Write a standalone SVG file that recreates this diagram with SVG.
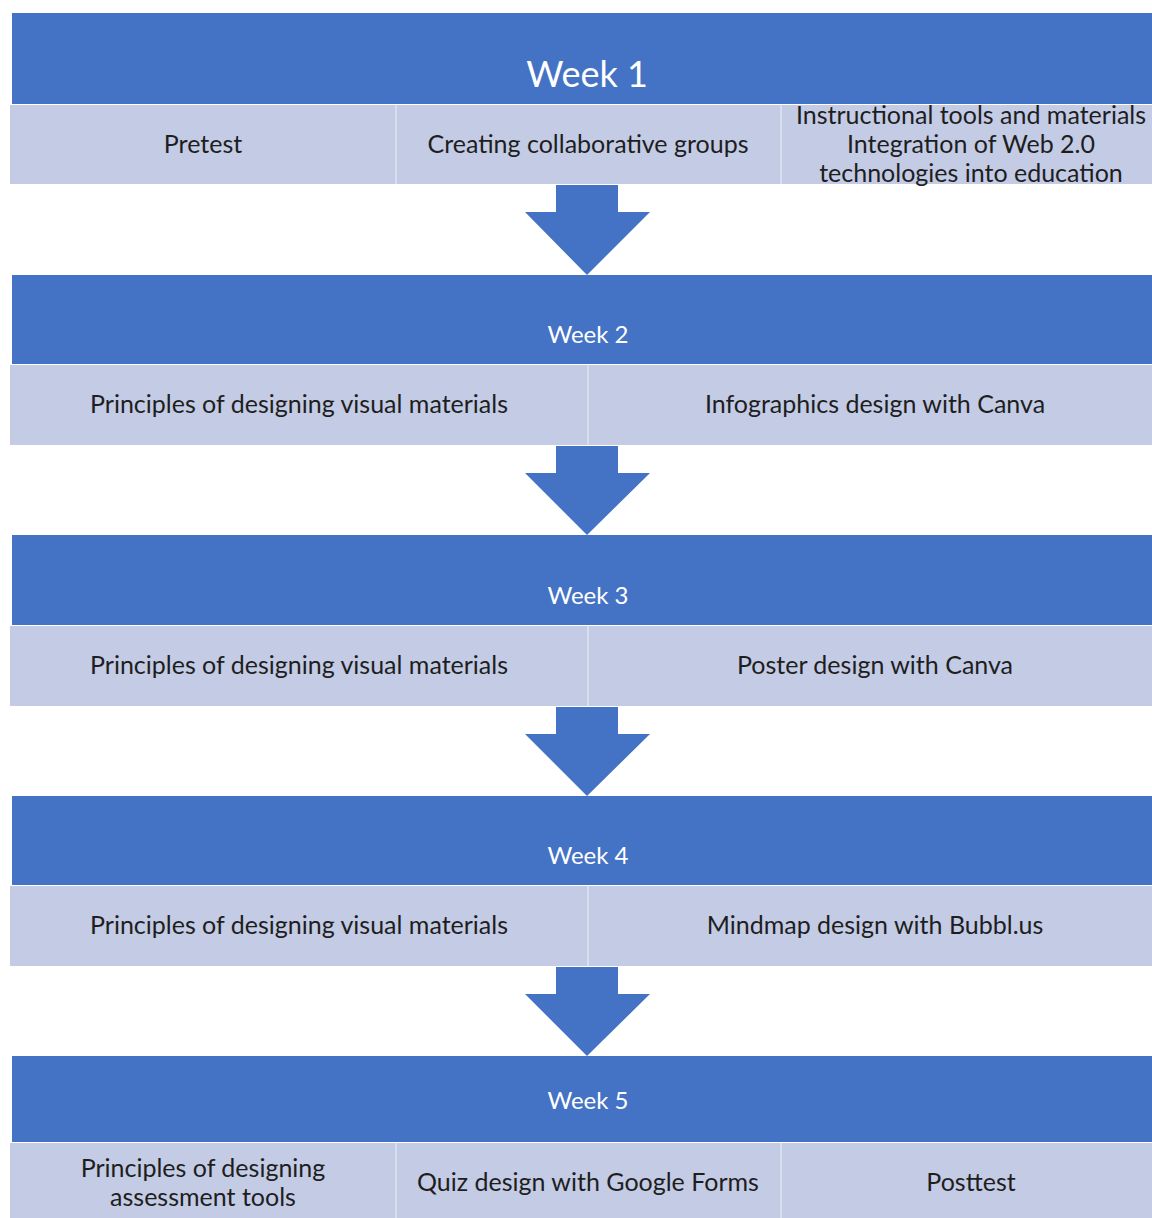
<svg xmlns="http://www.w3.org/2000/svg" width="1152" height="1218" viewBox="0 0 1152 1218">
<style>
.hd{fill:#4472C4;}
.sub{fill:#C3CBE5;}
.div{stroke:#D9DEEF;stroke-width:2;}
.ar{fill:#4472C4;}
text{font-family:"Lato","Liberation Sans",sans-serif;text-anchor:middle;dominant-baseline:central;}
.ht{fill:#FFFFFF;font-size:24px;}
.st{fill:#1E1E1E;font-size:25px;}
</style>
<rect width="1152" height="1218" fill="#FFFFFF"/>
<g id="week1">
<rect class="hd" x="12" y="13" width="1140" height="91"/>
<text class="ht" x="587" y="73" style="font-size:36px">Week 1</text>
<rect class="sub" x="10" y="105" width="1142" height="79"/>
<line class="div" x1="396" y1="105" x2="396" y2="184"/>
<line class="div" x1="781" y1="105" x2="781" y2="184"/>
<text class="st" x="203" y="143">Pretest</text>
<text class="st" x="588" y="143">Creating collaborative groups</text>
<text class="st" x="971" y="114">Instructional tools and materials</text>
<text class="st" x="971" y="143">Integration of Web 2.0</text>
<text class="st" x="971" y="172">technologies into education</text>
</g>
<g id="week2">
<rect class="hd" x="12" y="275" width="1140" height="89"/>
<text class="ht" x="588" y="333">Week 2</text>
<rect class="sub" x="10" y="365" width="1142" height="80"/>
<line class="div" x1="588" y1="365" x2="588" y2="445"/>
<text class="st" x="299" y="403">Principles of designing visual materials</text>
<text class="st" x="875" y="403">Infographics design with Canva</text>
</g>
<g id="week3">
<rect class="hd" x="12" y="535" width="1140" height="90"/>
<text class="ht" x="588" y="594">Week 3</text>
<rect class="sub" x="10" y="626" width="1142" height="80"/>
<line class="div" x1="588" y1="626" x2="588" y2="706"/>
<text class="st" x="299" y="664">Principles of designing visual materials</text>
<text class="st" x="875" y="664">Poster design with Canva</text>
</g>
<g id="week4">
<rect class="hd" x="12" y="796" width="1140" height="89"/>
<text class="ht" x="588" y="854">Week 4</text>
<rect class="sub" x="10" y="886" width="1142" height="80"/>
<line class="div" x1="588" y1="886" x2="588" y2="966"/>
<text class="st" x="299" y="924">Principles of designing visual materials</text>
<text class="st" x="875" y="924">Mindmap design with Bubbl.us</text>
</g>
<g id="week5">
<rect class="hd" x="12" y="1056" width="1140" height="86"/>
<text class="ht" x="588" y="1099">Week 5</text>
<rect class="sub" x="10" y="1143" width="1142" height="75"/>
<line class="div" x1="396" y1="1143" x2="396" y2="1218"/>
<line class="div" x1="781" y1="1143" x2="781" y2="1218"/>
<text class="st" x="203" y="1167">Principles of designing</text>
<text class="st" x="203" y="1196">assessment tools</text>
<text class="st" x="588" y="1181">Quiz design with Google Forms</text>
<text class="st" x="971" y="1181">Posttest</text>
</g>
<g id="connectors">
<polygon class="ar" points="556,185 618,185 618,212 650,212 587,275 525,212 556,212"/>
<polygon class="ar" points="556,446 618,446 618,473 650,473 587,535 525,473 556,473"/>
<polygon class="ar" points="556,707 618,707 618,734 650,734 587,796 525,734 556,734"/>
<polygon class="ar" points="556,967 618,967 618,994 650,994 587,1056 525,994 556,994"/>
</g>
</svg>
